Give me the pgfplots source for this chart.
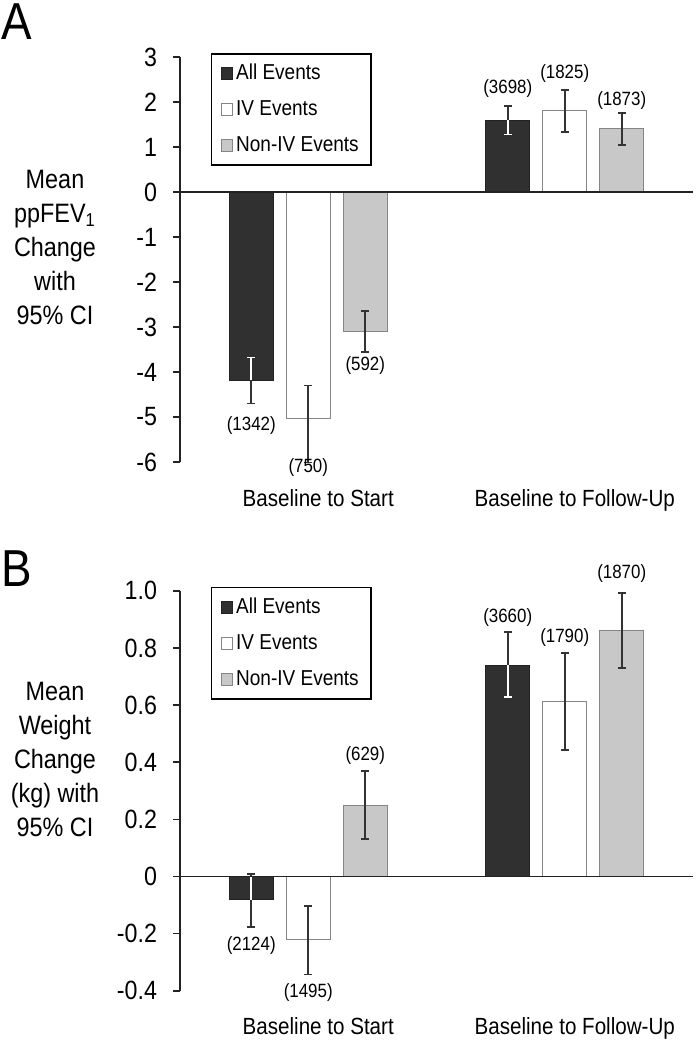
\documentclass[border=0pt]{standalone}
\usepackage{fontspec}
\setmainfont{Liberation Sans}[FakeStretch=0.88]
\usepackage{pgfplots}
\pgfplotsset{compat=1.18}

\definecolor{darkbar}{HTML}{303030}
\definecolor{graybar}{HTML}{C8C8C8}
\definecolor{edge}{HTML}{858585}
\definecolor{errc}{HTML}{333333}
\definecolor{axc}{HTML}{222222}

\pgfplotsset{
 sqleg/.style={legend image code/.code={\draw[##1, line width=0.5pt] (0pt,-2.9pt) rectangle (5.8pt,2.9pt);}},
 whiteerr/.style={error bars/error bar style={white, line width=0.85pt},
   error bars/error mark options={rotate=90, mark size=2pt, white, line width=0.85pt}},
 mystyle/.style={
  scale only axis, width=256.5pt, xmin=-0.5, xmax=1.5,
  axis lines*=left, x axis line style={draw=none},
  y axis line style={line width=0.8pt, axc},
  ybar, bar width=22pt,
  xtick={0,1}, xticklabels={Baseline to Start, Baseline to Follow-Up},
  xtick style={draw=none}, ytick style={line width=0.8pt, axc},
  tick align=outside, major tick length=3.5pt,
  xticklabel style={font=\fontsize{11.7}{13}\selectfont, yshift=-6.5pt, xshift=5pt},
  yticklabel style={font=\fontsize{13.2}{14}\selectfont, xshift=-4.5pt},
  clip=false,
  legend cell align=left,
  legend style={at={(0.06,1.01)}, anchor=north west, draw=black, line width=0.8pt,
    font=\fontsize{10.8}{13}\selectfont, row sep=5pt, inner xsep=4.5pt, inner ysep=3.2pt,
    nodes={inner xsep=1.5pt}},
  error bars/error bar style={line width=0.85pt, errc},
  error bars/error mark options={rotate=90, mark size=2pt, line width=0.85pt, errc},
 },
 allst/.style={sqleg, bar shift=-28.5pt, fill=darkbar, draw=axc, line width=0.5pt},
 ivst/.style={sqleg, bar shift=0pt, fill=white, draw=edge, line width=0.5pt},
 nonst/.style={sqleg, bar shift=28.5pt, fill=graybar, draw=edge, line width=0.5pt},
}

\begin{document}
\begin{tikzpicture}
\useasboundingbox (0,0) rectangle (348.5pt,-525pt);

% ---------------- Panel A ----------------
\begin{axis}[mystyle, at={(90pt,-231pt)}, anchor=south west, height=202.5pt,
  ymin=-6, ymax=3, ytick={-6,-5,-4,-3,-2,-1,0,1,2,3},
  yticklabels={-6,-5,-4,-3,-2,-1,0,1,2,3}]
\addplot[allst, error bars/.cd, y dir=both, y explicit] coordinates {
  (0,-4.18) += (0,0.50) -= (0,0.52)
  (1,1.60) += (0,0.31) -= (0,0.32)};
\addlegendentry{All Events}
\addplot[ivst, error bars/.cd, y dir=both, y explicit] coordinates {
  (0,-5.04) += (0,0.74) -= (0,0.97)
  (1,1.81) += (0,0.46) -= (0,0.47)};
\addlegendentry{IV Events}
\addplot[nonst, error bars/.cd, y dir=both, y explicit] coordinates {
  (0,-3.09) += (0,0.45) -= (0,0.47)
  (1,1.41) += (0,0.34) -= (0,0.36)};
\addlegendentry{Non-IV Events}
% white inner part of the error bars inside the dark bars
\addplot[forget plot, bar shift=-28.5pt, draw=none, fill=none, whiteerr,
  error bars/.cd, y dir=plus, y explicit] coordinates {(0,-4.18) +- (0,0.50)};
\addplot[forget plot, bar shift=-28.5pt, draw=none, fill=none, whiteerr,
  error bars/.cd, y dir=minus, y explicit] coordinates {(1,1.60) +- (0,0.32)};
\draw[line width=0.8pt, axc] (axis cs:-0.5,0) -- (axis cs:1.5,0);
\begin{scope}[font=\fontsize{9.6}{10}\selectfont]
\node at (axis cs:-0.2222,-5.18) {(1342)};
\node at (axis cs:0,-6.13) {(750)};
\node at (axis cs:0.2222,-3.86) {(592)};
\node at (axis cs:0.7778,2.29) {(3698)};
\node at (axis cs:1,2.64) {(1825)};
\node at (axis cs:1.2222,2.04) {(1873)};
\end{scope}
\end{axis}

% ---------------- Panel B ----------------
\begin{axis}[mystyle, at={(90pt,-495.4pt)}, anchor=south west, height=200pt,
  ymin=-0.4, ymax=1.0, ytick={-0.4,-0.2,0,0.2,0.4,0.6,0.8,1.0},
  yticklabels={-0.4,-0.2,0,0.2,0.4,0.6,0.8,1.0}]
\addplot[allst, error bars/.cd, y dir=both, y explicit] coordinates {
  (0,-0.082) += (0,0.092) -= (0,0.095)
  (1,0.739) += (0,0.116) -= (0,0.111)};
\addlegendentry{All Events}
\addplot[ivst, error bars/.cd, y dir=both, y explicit] coordinates {
  (0,-0.222) += (0,0.118) -= (0,0.121)
  (1,0.614) += (0,0.169) -= (0,0.171)};
\addlegendentry{IV Events}
\addplot[nonst, error bars/.cd, y dir=both, y explicit] coordinates {
  (0,0.249) += (0,0.120) -= (0,0.117)
  (1,0.861) += (0,0.131) -= (0,0.131)};
\addlegendentry{Non-IV Events}
\addplot[forget plot, bar shift=-28.5pt, draw=none, fill=none, whiteerr,
  error bars/.cd, y dir=plus, y explicit, error mark=none] coordinates {(0,-0.082) +- (0,0.082)};
\addplot[forget plot, bar shift=-28.5pt, draw=none, fill=none, whiteerr,
  error bars/.cd, y dir=minus, y explicit] coordinates {(1,0.739) +- (0,0.111)};
\draw[line width=0.8pt, axc] (axis cs:-0.5,0) -- (axis cs:1.5,0);
\begin{scope}[font=\fontsize{9.6}{10}\selectfont]
\node at (axis cs:-0.2222,-0.242) {(2124)};
\node at (axis cs:0,-0.406) {(1495)};
\node at (axis cs:0.2222,0.424) {(629)};
\node at (axis cs:0.7778,0.907) {(3660)};
\node at (axis cs:1,0.837) {(1790)};
\node at (axis cs:1.2222,1.061) {(1870)};
\end{scope}
\end{axis}

% y-axis titles and panel letters
\node[align=center, font=\fontsize{13.3}{17}\selectfont] at (27.5pt,-123.75pt)
  {Mean\\ppFEV\textsubscript{1}\\Change\\with\\95\% CI};
\node[align=center, font=\fontsize{13.3}{17}\selectfont] at (27.5pt,-379.5pt)
  {Mean\\Weight\\Change\\(kg) with\\95\% CI};
\node[font=\fontsize{26}{28}\selectfont] at (8.5pt,-11pt) {A};
\node[font=\fontsize{26}{28}\selectfont] at (8.3pt,-284.5pt) {B};
\end{tikzpicture}
\end{document}
